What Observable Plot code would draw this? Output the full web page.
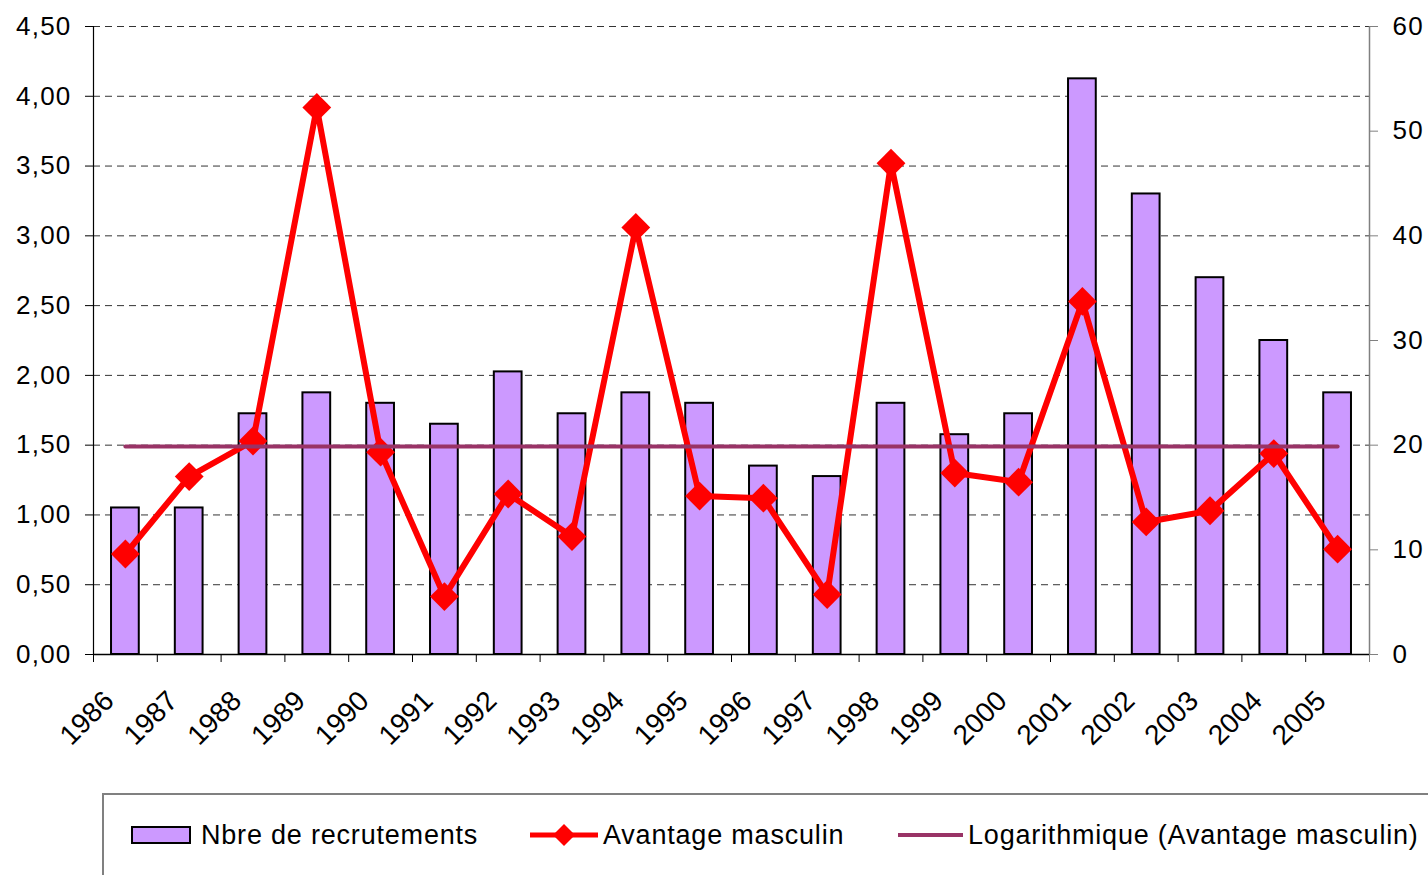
<!DOCTYPE html>
<html>
<head>
<meta charset="utf-8">
<script src="https://cdn.jsdelivr.net/npm/d3@7"></script>
<script src="https://cdn.jsdelivr.net/npm/@observablehq/plot@0.6"></script>
<style>
  html, body { margin: 0; padding: 0; overflow: hidden; background: #fff; width: 1428px; height: 875px; }
  #chart { position: absolute; left: 0; top: 0; }
  #chart svg { display: block; }
  #legend {
    position: absolute; left: 102px; top: 793px; width: 1420px; height: 120px;
    border-top: 2px solid #808080; border-left: 2px solid #808080;
    font-family: "Liberation Sans", Arial, sans-serif; font-size: 27px; letter-spacing: 0.8px; color: #000;
  }
  .sw { position: absolute; top: 26px; }
  .lt { position: absolute; top: 40px; transform: translateY(-50%); white-space: nowrap; line-height: 1; }
</style>
</head>
<body>
<div id="chart"></div>
<div id="legend"></div>
<script>
// ---- data ----
const years = ["1986","1987","1988","1989","1990","1991","1992","1993","1994","1995",
               "1996","1997","1998","1999","2000","2001","2002","2003","2004","2005"];
const recrutements = [14, 14, 23, 25, 24, 22, 27, 23, 25, 24, 18, 17, 24, 21, 23, 55, 44, 36, 30, 25];
const avantage = [0.72, 1.275, 1.53, 3.92, 1.45, 0.415, 1.15, 0.845, 3.06, 1.135,
                  1.12, 0.43, 3.52, 1.30, 1.235, 2.53, 0.95, 1.03, 1.44, 0.755];
const trendYears = ["1986", "2005"];
const trendValues = [1.49, 1.49];
const leftTicks = [0, 0.5, 1, 1.5, 2, 2.5, 3, 3.5, 4, 4.5];
const rightTicks = [0, 10, 20, 30, 40, 50, 60];
const seriesNames = ["Nbre de recrutements", "Avantage masculin", "Logarithmique (Avantage masculin)"];
const colors = {bar: "#cc99ff", line: "#ff0000", trend: "#993366"};

// ---- layout ----
const W = 1428, H = 790, ml = 93, mr = 59, mt = 26, mb = 136;
const leftMax = leftTicks[leftTicks.length - 1];
const rightMax = rightTicks[rightTicks.length - 1];
const ratio = leftMax / rightMax;
const step = (W - ml - mr) / years.length;

const rows = years.map((y, i) => ({year: y, count: recrutements[i], adv: avantage[i]}));
const trend = trendYears.map((y, i) => ({year: y, v: trendValues[i]}));
const fmtL = d => d.toFixed(2).replace(".", ",");

const chart = Plot.plot({
  width: W, height: H,
  marginLeft: ml, marginRight: mr, marginTop: mt, marginBottom: mb,
  style: {fontFamily: "Liberation Sans, Arial, sans-serif", fontSize: "26px", color: "#000", background: "#fff", overflow: "visible"},
  x: {type: "band", domain: years, paddingInner: 0.565, paddingOuter: 0.2825, round: false, label: null, axis: null},
  y: {domain: [0, leftMax], label: null},
  marks: [
    Plot.ruleY(leftTicks.filter(v => v > 0), {stroke: "#000", strokeOpacity: 0.8, strokeWidth: 1, strokeDasharray: "7,5"}),
    Plot.barY(rows, {x: "year", y: d => d.count * ratio, fill: colors.bar, stroke: "#000", strokeWidth: 2}),
    Plot.line(rows, {x: "year", y: "adv", stroke: colors.line, strokeWidth: 6, strokeLinejoin: "miter"}),
    Plot.dot(rows, {x: "year", y: "adv", symbol: "square", rotate: 45, r: 11.5, fill: colors.line, stroke: "none"}),
    Plot.line(trend, {x: "year", y: "v", stroke: colors.trend, strokeWidth: 4}),
    // axis lines
    Plot.ruleY([0], {stroke: "#000", strokeWidth: 1.5}),
    Plot.ruleX([years[0]], {dx: -step / 2, stroke: "#000", strokeWidth: 1.2}),
    Plot.ruleX([years[years.length - 1]], {dx: step / 2, stroke: "#808080", strokeWidth: 1.5}),
    // x ticks at category boundaries
    Plot.ruleX(years, {x: d => d, y1: 0, y2: 0, dx: -step / 2, insetBottom: -8, stroke: "#000", strokeWidth: 1}),
    Plot.ruleX([years[years.length - 1]], {x: d => d, y1: 0, y2: 0, dx: step / 2, insetBottom: -8, stroke: "#808080", strokeWidth: 1}),
    // x labels
    Plot.text(years, {x: d => d, frameAnchor: "bottom", rotate: -45, textAnchor: "end", lineAnchor: "bottom", dx: -10, dy: 48, fontSize: 28}),
    // left axis
    Plot.axisY({anchor: "left", ticks: leftTicks, tickFormat: fmtL, tickSize: 8, tickPadding: 14, label: null, fontSize: 26}),
    // right axis
    Plot.axisY({anchor: "right", ticks: rightTicks.map(v => v * ratio), tickFormat: v => String(Math.round(v / ratio)),
                tickSize: 8, tickPadding: 15, label: null, fontSize: 26, stroke: "#808080"})
  ]
});
d3.select(chart).selectAll("g[aria-label='y-axis tick label'] text").style("letter-spacing", "1.2px");
document.getElementById("chart").appendChild(chart);

// ---- legend ----
const lg = document.getElementById("legend");
const items = [
  {x: 27, w: 60, sw: `<rect x="1" y="6" width="58" height="16" fill="${colors.bar}" stroke="#000" stroke-width="2"/>`, tx: 97},
  {x: 426, w: 68, sw: `<line x1="0" y1="14" x2="68" y2="14" stroke="${colors.line}" stroke-width="5"/><path d="M34 3 L45 14 L34 25 L23 14 Z" fill="${colors.line}"/>`, tx: 499},
  {x: 794, w: 65, sw: `<line x1="0" y1="14" x2="65" y2="14" stroke="${colors.trend}" stroke-width="4"/>`, tx: 864}
];
items.forEach((it, i) => {
  const s = document.createElement("div");
  s.className = "sw";
  s.style.left = it.x + "px";
  s.innerHTML = `<svg width="${it.w}" height="28">${it.sw}</svg>`;
  lg.appendChild(s);
  const t = document.createElement("div");
  t.className = "lt";
  t.style.left = it.tx + "px";
  t.textContent = seriesNames[i];
  lg.appendChild(t);
});
</script>
</body>
</html>
